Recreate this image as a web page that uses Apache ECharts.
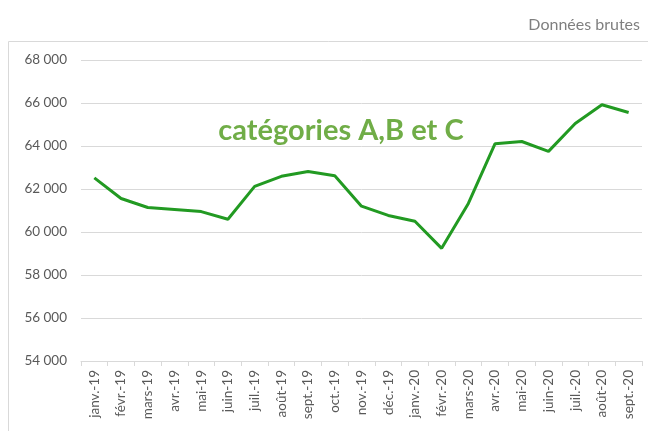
<!DOCTYPE html>
<html lang="fr">
<head>
  <meta charset="UTF-8" />
  <title>catégories A,B et C</title>
  <script src="https://cdn.jsdelivr.net/npm/echarts@6/dist/echarts.min.js"></script>
  <style>
    html, body { margin: 0; padding: 0; background: #fff; }
    #chart { width: 648px; height: 431px; }
  </style>
</head>
<body>
  <div id="chart"></div>
  <script>
    // données
    var months = ['janv.-19', 'févr.-19', 'mars-19', 'avr.-19', 'mai-19', 'juin-19', 'juil.-19',
      'août-19', 'sept.-19', 'oct.-19', 'nov.-19', 'déc.-19', 'janv.-20', 'févr.-20', 'mars-20',
      'avr.-20', 'mai-20', 'juin-20', 'juil.-20', 'août-20', 'sept.-20'];
    var values = [62520, 61560, 61140, 61050, 60950, 60590, 62120, 62590, 62810, 62620, 61200,
      60770, 60500, 59240, 61330, 64110, 64210, 63750, 65050, 65920, 65560];
    var yMin = 54000, yMax = 68000, yStep = 2000;

    var font = 'Lato, "Open Sans", sans-serif';
    var chart = echarts.init(document.getElementById('chart'));

    chart.setOption({
      animation: false,
      title: [{
        text: 'Données brutes',
        right: 3,
        top: 12,
        textStyle: { color: '#7f7f7f', fontSize: 16, fontWeight: 'normal', fontFamily: font }
      }, {
        text: 'catégories A,B et C',
        left: 336,
        textAlign: 'center',
        top: 111,
        textStyle: { color: '#70ad47', fontSize: 29, fontWeight: 'bold', fontFamily: font }
      }],
      graphic: [{
        type: 'polyline',
        silent: true,
        shape: { points: [[660, 41.5], [8.5, 41.5], [8.5, 440]] },
        style: { stroke: '#d9d9d9', lineWidth: 1, fill: null }
      }],
      grid: { left: 81, right: 6, top: 60, bottom: 70 },
      xAxis: {
        type: 'category',
        data: months,
        boundaryGap: true,
        axisLine: { lineStyle: { color: '#d9d9d9', width: 1 } },
        axisTick: { show: true, length: 5, alignWithLabel: false, lineStyle: { color: '#d9d9d9' } },
        axisLabel: {
          rotate: 90,
          interval: 0,
          margin: 9,
          color: '#595959',
          fontSize: 13.5,
          fontFamily: font
        }
      },
      yAxis: {
        type: 'value',
        min: yMin,
        max: yMax,
        interval: yStep,
        axisLine: { show: false },
        axisTick: { show: false },
        splitLine: { lineStyle: { color: '#d9d9d9', width: 1 } },
        axisLabel: {
          color: '#595959',
          fontSize: 13.5,
          fontFamily: font,
          margin: 14,
          formatter: function (v) {
            return String(v).replace(/\B(?=(\d{3})+(?!\d))/g, ' ');
          }
        }
      },
      series: [{
        type: 'line',
        data: values,
        symbol: 'none',
        lineStyle: { color: '#229a22', width: 3 },
        itemStyle: { color: '#229a22' }
      }]
    });
  </script>
</body>
</html>
